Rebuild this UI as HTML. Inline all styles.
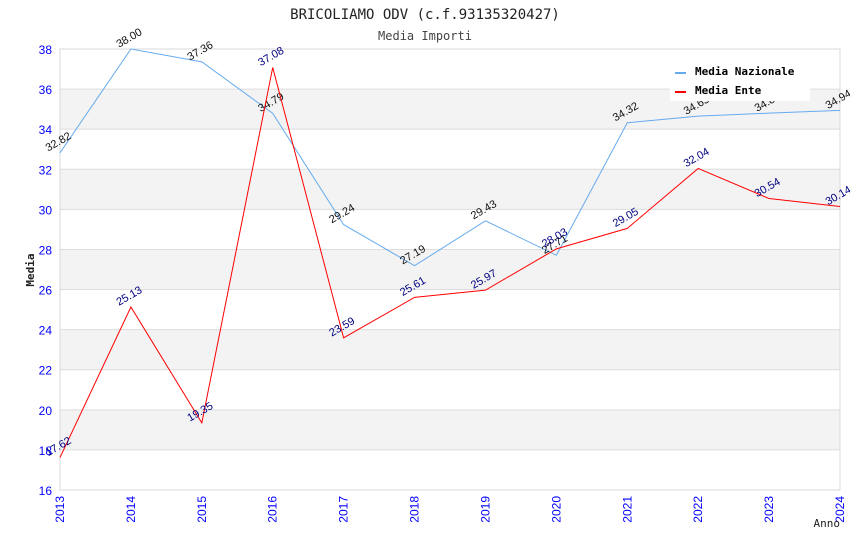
<!DOCTYPE html>
<html><head><meta charset="utf-8"><style>
body{margin:0;background:#fff;}
svg{display:block;font-family:"Liberation Sans",sans-serif;}
.mono{font-family:"DejaVu Sans Mono","Liberation Mono",monospace;}
</style></head><body>
<svg id="chart" width="850" height="550"></svg>
<script>
const years=["2013","2014","2015","2016","2017","2018","2019","2020","2021","2022","2023","2024"];
const nazionale=[32.82,38.00,37.36,34.79,29.24,27.19,29.43,27.71,34.32,34.65,34.80,34.94];
const ente=[17.62,25.13,19.35,37.08,23.59,25.61,25.97,28.03,29.05,32.04,30.54,30.14];
const yTicks=[16,18,20,22,24,26,28,30,32,34,36,38];

const L=60,R=840,T=49,B=490,yMin=16,yMax=38;
const xs=i=>L+(R-L)*i/(years.length-1);
const ys=v=>B-(v-yMin)/(yMax-yMin)*(B-T);
const NS="http://www.w3.org/2000/svg";
const svg=document.getElementById('chart');
function mk(tag,attrs,parent){const e=document.createElementNS(NS,tag);for(const k in attrs)e.setAttribute(k,attrs[k]);(parent||svg).appendChild(e);return e;}

// bands
for(let i=0;i<yTicks.length-1;i++){
  const a=yTicks[i],b=yTicks[i+1];
  if(a%4===2){const r=mk('rect',{x:L,y:ys(b),width:R-L,height:ys(a)-ys(b),fill:'#f3f3f3'});
  
  }
}
// grid + y labels
yTicks.forEach(v=>{
  const g=mk('line',{x1:L,x2:R,y1:ys(v),y2:ys(v),stroke:'#dddddd','stroke-width':1});
  
  
  const t=mk('text',{x:52,y:ys(v)+5,'text-anchor':'end','font-size':12,fill:'#0000ff'});
  t.textContent=v;
  
  
});
// frame
const fr=mk('rect',{x:L,y:T,width:R-L,height:B-T,fill:'none',stroke:'#d8d8d8'});


// x labels
years.forEach((y,i)=>{
  const t=mk('text',{x:0,y:0,'text-anchor':'end','font-size':12,fill:'#0000ff',transform:`translate(${xs(i)+4},${B+6}) rotate(-90)`});
  t.textContent=y;
  
  
});
function series(vals,color,lblColor,name){
  const p=mk('polyline',{points:vals.map((v,i)=>xs(i)+','+ys(v)).join(' '),fill:'none',stroke:color,'stroke-width':1});
  
  
  vals.forEach((v,i)=>{
    const t=mk('text',{x:0,y:0,'text-anchor':'middle','font-size':11,fill:lblColor,transform:`translate(${xs(i)},${ys(v)-8}) rotate(-30)`});
    t.textContent=v.toFixed(2);
    
    
  });
}
series(nazionale,'#66aaee','#111111','nazionale');
series(ente,'#ff0000','#000080','ente');
</script>
<svg style="position:absolute;left:0;top:0" width="850" height="550">
<text class="mono" x="425" y="19" text-anchor="middle" font-size="14" fill="#222">BRICOLIAMO ODV (c.f.93135320427)</text>
<text class="mono" x="425" y="40" text-anchor="middle" font-size="12" fill="#444">Media Importi</text>
<g>
<rect x="670" y="61" width="140" height="40" fill="#fff"/>
<rect x="675" y="72" width="11" height="2" fill="#66aaee"/>
<text class="mono" x="695" y="75" font-size="11" font-weight="bold" fill="#000">Media Nazionale</text>
<rect x="675" y="91" width="11" height="2" fill="#ff0000"/>
<text class="mono" x="695" y="94" font-size="11" font-weight="bold" fill="#000">Media Ente</text>
</g>
<text class="mono" x="0" y="0" transform="translate(34,270) rotate(-90)" text-anchor="middle" font-size="11" font-weight="bold" fill="#222">Media</text>
<text class="mono" x="840" y="527" text-anchor="end" font-size="11" fill="#222">Anno</text>
</svg>
</body></html>
